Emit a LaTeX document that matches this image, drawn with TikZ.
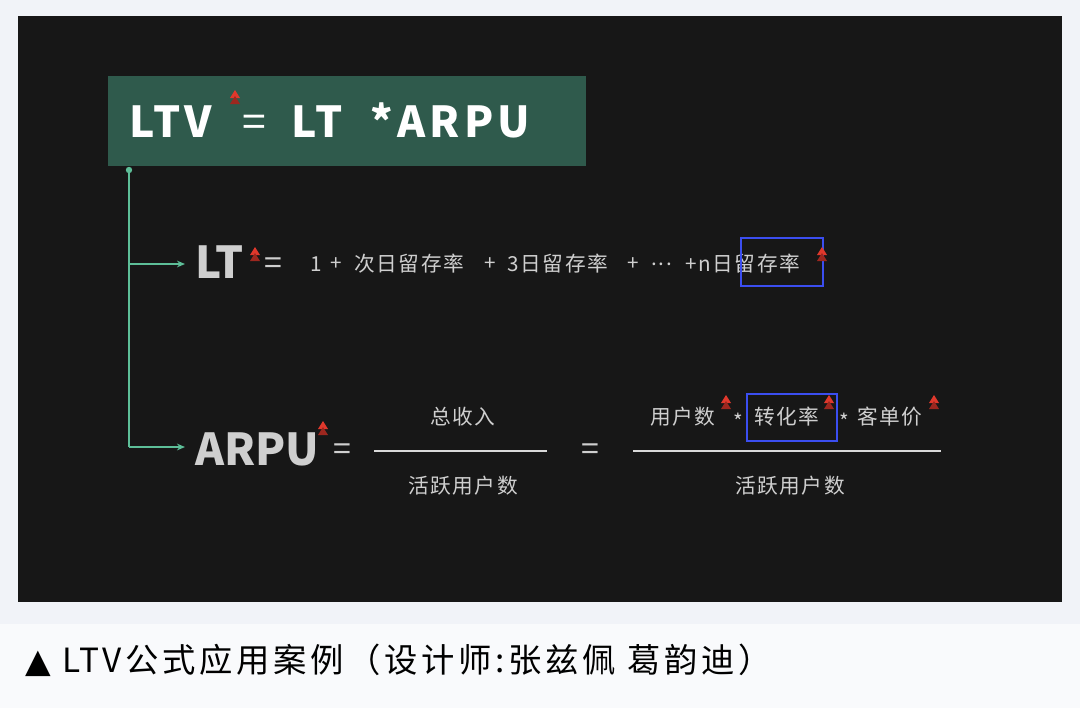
\documentclass[tikz,border=0pt]{standalone}
\usepackage{fontspec}
\setmainfont{Noto Sans CJK SC}
\newfontfamily\dv{DejaVu Sans}
\usetikzlibrary{arrows.meta,calc}
\definecolor{bgout}{HTML}{F1F3F8}
\definecolor{panel}{HTML}{171717}
\definecolor{gbox}{HTML}{2F5A4C}
\definecolor{gline}{HTML}{5DBE98}
\definecolor{txt}{HTML}{CFCFCF}
\definecolor{bluebox}{HTML}{3B4EF0}
\definecolor{redm}{HTML}{E0382C}
\tikzset{
  small/.style={anchor=west,text=txt,font=\fontsize{15.5}{18}\selectfont\addfontfeatures{LetterSpace=8},inner sep=0pt},
  big/.style={text=txt,font=\fontsize{33}{38}\selectfont\bfseries,inner sep=0pt},
  ttl/.style={anchor=base west,inner sep=0pt,text=white,font=\fontsize{32}{36}\selectfont\bfseries\addfontfeatures{LetterSpace=10}},
  conn/.style={gline,line width=1.2pt,-{Stealth[length=6pt,width=5pt]}},
  hl/.style={draw=bluebox,line width=1.6pt},
  frac/.style={draw=txt!80,line width=0.8pt}
}
\newcommand{\upmark}[1]{%
  \fill[redm] ($#1+(-5,3)$) -- ($#1+(0,-5)$) -- ($#1+(5,3)$) -- cycle;
  \fill[redm!70!black] ($#1+(-5,9)$) -- ($#1+(0,1)$) -- ($#1+(5,9)$) -- cycle;}
\begin{document}
\begin{tikzpicture}[x=0.75pt,y=-0.75pt]
\fill[bgout] (0,0) rectangle (1080,708);
\useasboundingbox (0,0) rectangle (1080,708);
\fill[panel] (18,16) rectangle (1062,602);
\fill[white!60!bgout] (0,624) rectangle (1080,708);
\node[anchor=west,inner sep=0pt,font=\fontsize{25}{28}\selectfont\addfontfeatures{LetterSpace=11}] (cap) at (25,660) {{\dv ▲} LTV公式应用案例（设计师:张兹佩 葛韵迪）};
% top box
\fill[gbox] (108,76) rectangle (586,166);
\node[ttl] (ltv) at (129,137) {LTV};
\node[ttl,font=\fontsize{32}{36}\selectfont] (eq0) at (242,137) {=};
\node[ttl] (lt0) at (291,137) {LT};
\node[ttl] (ar0) at (370,137) {*ARPU};
\upmark{(235,95)}
% connector tree
\coordinate (dot) at (129,170);
\coordinate (b1) at (129,264);
\coordinate (b2) at (129,447);
\coordinate (e1) at (185,264);
\coordinate (e2) at (185,447);
\fill[gline] (dot) circle (3.2);
\draw[gline,line width=1.2pt] (dot) -- (b2);
\draw[conn] (b1) -- (e1);
\draw[conn] (b2) -- (e2);
\node[anchor=base west,big] (lt) at (195,278) {LT};
\node[anchor=base west,big] (arpu) at (195,465) {ARPU};
\upmark{(255,252)}
\upmark{(323,426)}
\node[text=txt,font=\fontsize{24}{26}\selectfont,inner sep=0pt] (eq1) at (273,266) {=};
\node[small] (f1) at (310,264) {1};
\node[small] (f2) at (330,264) {+};
\node[small] (f3) at (354,264) {次日留存率};
\node[small] (f4) at (484,264) {+};
\node[small] (f5) at (507,264) {3日留存率};
\node[small] (f6) at (627,264) {+};
\node[small] (f7) at (651,264) {...};
\node[small] (f8) at (685,264) {+n日留存率};
\draw[hl] (741,238) rectangle (823,286);
\upmark{(822,252)}
% ARPU
\node[text=txt,font=\fontsize{24}{26}\selectfont,inner sep=0pt] (eq2) at (342,452) {=};
\node[small,anchor=center] (num1) at (463,417) {总收入};
\draw[frac] (374,451) -- (547,451);
\node[small,anchor=center] (den1) at (463,486) {活跃用户数};
\node[text=txt,font=\fontsize{24}{26}\selectfont,inner sep=0pt] (eq3) at (590,452) {=};
\node[small] (n1) at (650,417) {用户数};
\node[small] (n2) at (733,421) {*};
\node[small] (n3) at (754,417) {转化率};
\node[small] (n4) at (839,421) {*};
\node[small] (n5) at (857,417) {客单价};
\draw[frac] (633,451) -- (941,451);
\node[small,anchor=center] (den2) at (790,486) {活跃用户数};
\draw[hl] (747,394) rectangle (837,441);
\upmark{(726,400)}
\upmark{(829,400)}
\upmark{(934,400)}
\end{tikzpicture}
\end{document}
